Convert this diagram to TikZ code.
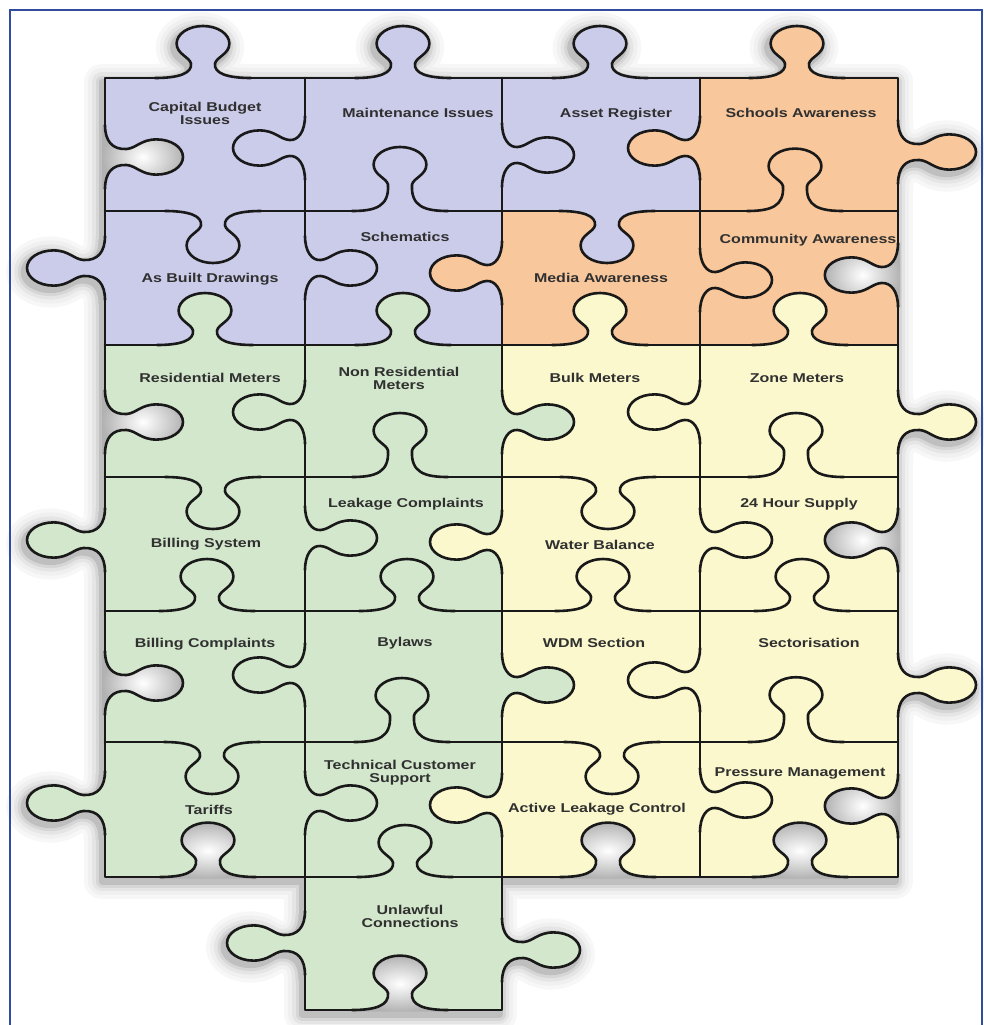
\documentclass[tikz,border=0pt]{standalone}
\usepackage{fontspec}
\newfontfamily\lblfont[FakeStretch=1.25]{Liberation Sans}
\definecolor{pur}{HTML}{CBCBEA}
\definecolor{ora}{HTML}{F8C79B}
\definecolor{grn}{HTML}{D3E7CC}
\definecolor{yel}{HTML}{FBF8CD}
\definecolor{frameblue}{HTML}{2F4C9F}
\definecolor{labelgray}{HTML}{303030}
% knob shape: x y rot d pathoptions
\newcommand\knobshape[5]{%
  \begin{scope}[shift={(#1,#2)},xscale=1.2,yscale=0.8,rotate=#3]
    \path[#5] (-40,-2) -- (-40,0) .. controls (-20,0) and (-9,6) .. (-10,{18+#4})
      .. controls (-11,{26+#4}) and (-22,{30+#4}) .. (-22,{43+#4})
      .. controls (-22,{55.15+#4}) and (-12.15,{65+#4}) .. (0,{65+#4})
      .. controls (12.15,{65+#4}) and (22,{55.15+#4}) .. (22,{43+#4})
      .. controls (22,{30+#4}) and (11,{26+#4}) .. (10,{18+#4})
      .. controls (9,6) and (20,0) .. (40,0) -- (40,-2) -- cycle;
  \end{scope}}
\newcommand\knobline[4]{%
  \begin{scope}[shift={(#1,#2)},xscale=1.2,yscale=0.8,rotate=#3]
    \draw[outline] (-40,0) .. controls (-20,0) and (-9,6) .. (-10,{18+#4})
      .. controls (-11,{26+#4}) and (-22,{30+#4}) .. (-22,{43+#4})
      .. controls (-22,{55.15+#4}) and (-12.15,{65+#4}) .. (0,{65+#4})
      .. controls (12.15,{65+#4}) and (22,{55.15+#4}) .. (22,{43+#4})
      .. controls (22,{30+#4}) and (11,{26+#4}) .. (10,{18+#4})
      .. controls (9,6) and (20,0) .. (40,0);
  \end{scope}}
\newcommand\tabk[5]{\knobshape{#1}{#2}{#3}{#4}{fill=#5}\knobline{#1}{#2}{#3}{#4}}
\newcommand\holek[4]{\knobshape{#1}{#2}{#3}{#4}{shade,shading=radial,inner color=white,outer color=black!30}\knobline{#1}{#2}{#3}{#4}}
\newcommand\shadowlayer[2]{%
  \path[fill=#2,draw=#2,line width=#1,line join=round] (105,78) rectangle (898,877) (305,877) rectangle (502,1010);
  \knobshape{203}{78}{180}{0}{fill=#2,draw=#2,line width=#1,line join=round}
  \knobshape{403}{78}{180}{0}{fill=#2,draw=#2,line width=#1,line join=round}
  \knobshape{600}{78}{180}{0}{fill=#2,draw=#2,line width=#1,line join=round}
  \knobshape{797}{78}{180}{0}{fill=#2,draw=#2,line width=#1,line join=round}
  \knobshape{105}{268}{-90}{0}{fill=#2,draw=#2,line width=#1,line join=round}
  \knobshape{105}{540}{-90}{0}{fill=#2,draw=#2,line width=#1,line join=round}
  \knobshape{105}{803}{-90}{0}{fill=#2,draw=#2,line width=#1,line join=round}
  \knobshape{898}{152}{90}{0}{fill=#2,draw=#2,line width=#1,line join=round}
  \knobshape{898}{422}{90}{0}{fill=#2,draw=#2,line width=#1,line join=round}
  \knobshape{898}{685}{90}{0}{fill=#2,draw=#2,line width=#1,line join=round}
  \knobshape{305}{943}{-90}{0}{fill=#2,draw=#2,line width=#1,line join=round}
  \knobshape{502}{950}{90}{0}{fill=#2,draw=#2,line width=#1,line join=round}}
\begin{document}
\begin{tikzpicture}[x=1pt,y=-1pt,
  outline/.style={draw=black!90,line width=2.6pt,line cap=round,line join=round},
  lbl/.style={font=\lblfont\bfseries\fontsize{12.8}{13}\selectfont,text=labelgray,align=center,inner sep=0pt}]
\useasboundingbox (0,0) rectangle (984,1025);
\fill[white] (0,0) rectangle (984,1025);
% soft shadow
\begin{scope}[shift={(-3,4)}]
  \shadowlayer{36pt}{black!3}
  \shadowlayer{28pt}{black!6}
  \shadowlayer{20pt}{black!10}
  \shadowlayer{13pt}{black!16}
  \shadowlayer{7pt}{black!25}
\end{scope}
% cells
\fill[pur] (105,78) rectangle (305,211);
\fill[pur] (305,78) rectangle (502,211);
\fill[pur] (502,78) rectangle (700,211);
\fill[ora] (700,78) rectangle (898,211);
\fill[pur] (105,211) rectangle (305,345);
\fill[pur] (305,211) rectangle (502,345);
\fill[ora] (502,211) rectangle (700,345);
\fill[ora] (700,211) rectangle (898,345);
\fill[grn] (105,345) rectangle (502,877);
\fill[yel] (502,345) rectangle (898,877);
\fill[grn] (305,877) rectangle (502,1010);
% straight edges
\draw[outline] (105,78) -- (898,78) -- (898,877) -- (502,877) -- (502,1010) -- (305,1010) -- (305,877) -- (105,877) -- cycle;
\draw[outline] (105,211) -- (898,211);
\draw[outline] (105,345) -- (898,345);
\draw[outline] (105,477) -- (898,477);
\draw[outline] (105,611) -- (898,611);
\draw[outline] (105,742) -- (898,742);
\draw[outline] (305,877) -- (502,877);
\draw[outline] (305,78) -- (305,877);
\draw[outline] (502,78) -- (502,877);
\draw[outline] (700,78) -- (700,877);
% row 1
\tabk{203}{78}{180}{0}{pur}
\tabk{403}{78}{180}{0}{pur}
\tabk{600}{78}{180}{0}{pur}
\tabk{797}{78}{180}{0}{ora}
\holek{105}{157}{90}{0}
\tabk{305}{148}{-90}{-5}{pur}
\tabk{502}{155}{90}{-5}{pur}
\tabk{700}{148}{-90}{-5}{ora}
\tabk{898}{152}{90}{0}{ora}
\tabk{213}{211}{0}{0}{pur}
\tabk{400}{211}{180}{15}{pur}
\tabk{607}{211}{0}{0}{pur}
\tabk{795}{211}{180}{13}{ora}
% row 2
\tabk{105}{268}{-90}{0}{pur}
\tabk{305}{268}{90}{-5}{pur}
\tabk{502}{273}{-90}{-5}{ora}
\tabk{700}{280}{90}{-5}{ora}
\holek{898}{275}{-90}{-4}
\tabk{205}{345}{180}{0}{grn}
\tabk{403}{345}{180}{0}{grn}
\tabk{600}{345}{180}{0}{yel}
\tabk{800}{345}{180}{0}{yel}
% row 3
\holek{105}{422}{90}{0}
\tabk{305}{412}{-90}{-5}{grn}
\tabk{502}{422}{90}{-5}{grn}
\tabk{700}{412}{-90}{-5}{yel}
\tabk{898}{422}{90}{0}{yel}
\tabk{213}{477}{0}{0}{grn}
\tabk{400}{477}{180}{15}{grn}
\tabk{608}{477}{0}{0}{yel}
\tabk{796}{477}{180}{15}{yel}
% row 4
\tabk{105}{540}{-90}{0}{grn}
\tabk{305}{538}{90}{-5}{grn}
\tabk{502}{542}{-90}{-5}{yel}
\tabk{700}{540}{90}{-5}{yel}
\holek{898}{540}{-90}{-4}
\tabk{207}{611}{180}{0}{grn}
\tabk{407}{611}{180}{0}{grn}
\tabk{603}{611}{180}{0}{yel}
\tabk{802}{611}{180}{0}{yel}
% row 5
\holek{105}{683}{90}{0}
\tabk{305}{675}{-90}{-5}{grn}
\tabk{502}{685}{90}{-5}{grn}
\tabk{700}{680}{-90}{-5}{yel}
\tabk{898}{685}{90}{0}{yel}
\tabk{212}{742}{0}{0}{grn}
\tabk{402}{742}{180}{15}{grn}
\tabk{612}{742}{0}{0}{yel}
\tabk{796}{742}{180}{16}{yel}
% row 6
\tabk{105}{803}{-90}{0}{grn}
\tabk{305}{803}{90}{-5}{grn}
\tabk{502}{805}{-90}{-5}{yel}
\tabk{700}{800}{90}{-5}{yel}
\holek{898}{806}{-90}{-4}
\holek{208}{877}{180}{3}
\tabk{405}{877}{180}{0}{grn}
\holek{608}{877}{180}{3}
\holek{800}{877}{180}{3}
% row 7
\tabk{305}{943}{-90}{0}{grn}
\tabk{502}{950}{90}{0}{grn}
\holek{400}{1010}{180}{3}
% frame
\draw[frameblue,line width=2.8pt] (10,1025) -- (10,10) -- (982,10) -- (982,1025);
% labels
\node[lbl,anchor=north] (capital) at (205,102.4) {Capital Budget\\Issues};
\node[lbl,anchor=base] (maint) at (418,117.6) {Maintenance Issues};
\node[lbl,anchor=base] (asset) at (616,117.6) {Asset Register};
\node[lbl,anchor=base] (schools) at (801,117.6) {Schools Awareness};
\node[lbl,anchor=base] (asbuilt) at (210,282.6) {As Built Drawings};
\node[lbl,anchor=base] (schem) at (405,241.6) {Schematics};
\node[lbl,anchor=base] (media) at (601,282.6) {Media Awareness};
\node[lbl,anchor=base] (community) at (808,243.6) {Community Awareness};
\node[lbl,anchor=base] (resid) at (210,382.6) {Residential Meters};
\node[lbl,anchor=north] (nonres) at (399,367.4) {Non Residential\\Meters};
\node[lbl,anchor=base] (bulk) at (595,382.6) {Bulk Meters};
\node[lbl,anchor=base] (zone) at (797,382.6) {Zone Meters};
\node[lbl,anchor=base] (billsys) at (206,547.6) {Billing System};
\node[lbl,anchor=base] (leakc) at (406,507.6) {Leakage Complaints};
\node[lbl,anchor=base] (wbal) at (600,549.6) {Water Balance};
\node[lbl,anchor=base] (h24) at (799,507.6) {24 Hour Supply};
\node[lbl,anchor=base] (billc) at (205,647.6) {Billing Complaints};
\node[lbl,anchor=base] (bylaws) at (405,646.6) {Bylaws};
\node[lbl,anchor=base] (wdm) at (594,647.6) {WDM Section};
\node[lbl,anchor=base] (sector) at (809,647.6) {Sectorisation};
\node[lbl,anchor=base] (tariffs) at (209,814.6) {Tariffs};
\node[lbl,anchor=north] (techcs) at (400,760.4) {Technical Customer\\Support};
\node[lbl,anchor=base] (alc) at (597,812.6) {Active Leakage Control};
\node[lbl,anchor=base] (pm) at (800,776.6) {Pressure Management};
\node[lbl,anchor=north] (unlawful) at (410,905.4) {Unlawful\\Connections};
\end{tikzpicture}
\end{document}
